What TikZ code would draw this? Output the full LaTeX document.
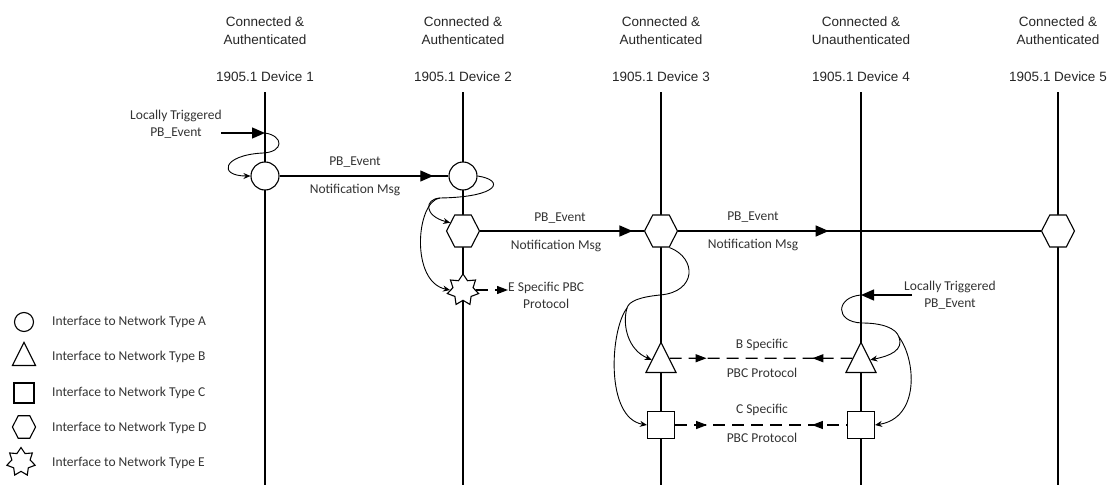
\documentclass[tikz,border=0pt]{standalone}
\usepackage{fontspec}
\newfontfamily\hdfont{Liberation Sans}
\newfontfamily\lbfont{Carlito}
\usetikzlibrary{shapes.geometric,arrows.meta,decorations.markings}

\begin{document}
\begin{tikzpicture}[x=1pt,y=-1pt,
  lifeln/.style={line width=1.3pt},
  hdtext/.style={font=\hdfont\fontsize{13.5}{18}\selectfont, align=center, inner sep=0pt, text=black!85},
  lbtext/.style={font=\lbfont\fontsize{13.5}{17}\selectfont, align=center, inner sep=0pt, text=black!80},
  ifbase/.style={draw, fill=white, line width=1.1pt, inner sep=0pt},
  ifA/.style={ifbase, circle, minimum size=#1},
  ifB/.style={ifbase, isosceles triangle, isosceles triangle stretches, shape border rotate=90,
    minimum width=#1, minimum height=#1, anchor=lower side},
  ifC/.style={ifbase, rectangle, minimum size=#1},
  ifD/.style={ifbase, regular polygon, regular polygon sides=6, minimum size=#1, xscale=0.89},
  ifE/.style={ifbase, star, star points=7, star point ratio=1.55, minimum size=#1},
  msgline/.style={line width=1.3pt, postaction=decorate,
    decoration={markings, mark=at position #1 with {\arrow{Triangle[length=13pt,width=11pt]}}}},
  protline/.style 2 args={line width=1.3pt, dash pattern=on 12pt off 7pt, postaction=decorate,
    decoration={markings,
      mark=at position #1 with {\arrow{Triangle[length=11pt,width=8pt]}},
      mark=at position #2 with {\arrowreversed{Triangle[length=11pt,width=8pt]}}}},
  protone/.style={line width=1.3pt, dash pattern=on 12pt off 7pt, -{Triangle[length=11pt,width=8pt]}},
  trig/.style={line width=1.3pt, -{Triangle[length=13pt,width=11pt]}},
  curvtip/.style={line width=0.9pt, -{Stealth[length=7pt,width=6pt]}}
]
\useasboundingbox (0,0) rectangle (1112,485);

% device headers and lifelines
\foreach \i/\x/\s in {1/265/Authenticated, 2/463/Authenticated, 3/661/Authenticated,
                      4/861/Unauthenticated, 5/1058/Authenticated} {
  \node[hdtext] (st\i) at (\x,31) {Connected \&\\\s};
  \node[hdtext] (dv\i) at (\x,77) {1905.1 Device \i};
  \coordinate (top\i) at (\x,92);
  \coordinate (bot\i) at (\x,485);
  \draw[lifeln] (top\i) -- (bot\i);
}

% interfaces on the lifelines (triangles are placed by the middle of their base)
\node[ifA=28pt] (a1) at (265,176) {};
\node[ifA=28pt] (a2) at (463,176) {};
\node[ifD=37pt] (d2) at (463,231) {};
\node[ifE=32pt] (e2) at (463,290) {};
\node[ifD=37pt] (d3) at (661,231) {};
\node[ifD=37pt] (d5) at (1058,231) {};
\node[ifB=30pt] (b3) at (661,373) {};
\node[ifC=27pt] (c3) at (661,425) {};
\node[ifB=30pt] (b4) at (861,373) {};
\node[ifC=27pt] (c4) at (861,425) {};

% message labels
\node[lbtext] (m1a) at (355,162) {PB\_Event};
\node[lbtext] (m1b) at (355,190) {Notification Msg};
\node[lbtext] (m2a) at (560,218) {PB\_Event};
\node[lbtext] (m2b) at (556,246) {Notification Msg};
\node[lbtext] (m3a) at (753,217) {PB\_Event};
\node[lbtext] (m3b) at (753,245) {Notification Msg};
\node[lbtext, anchor=west] (eprot) at (508,295) {E Specific PBC\\Protocol};
\node[lbtext] (bsa) at (762,345) {B Specific};
\node[lbtext] (bsb) at (762,373) {PBC Protocol};
\node[lbtext] (csa) at (762,410) {C Specific};
\node[lbtext] (csb) at (762,438) {PBC Protocol};
\node[lbtext] (trg1) at (176,124) {Locally Triggered\\PB\_Event};
\node[lbtext] (trg4) at (950,295) {Locally Triggered\\PB\_Event};

% messages
\draw[msgline=0.91] (a1.east) -- (a2.west);
\draw[msgline=0.93] (d2.east) -- (d3.west);
\draw[msgline=0.415] (d3.east) -- (d5.west);
\draw[protone] (e2.east) -- (e2.east -| eprot.west);
\draw[protline={37pt}{-40pt}] (b3.30) -- (b4.150);
\draw[protline={32pt}{-35pt}] (c3.east) -- (c4.west);

% local triggers
\coordinate (src1) at (221,133);
\coordinate (in1) at (265,133);
\draw[trig] (src1) -- (in1);
\coordinate (src4) at (912,295);
\coordinate (in4) at (861,295);
\draw[trig] (src4) -- (in4);

% internal hand-overs between interfaces
\draw[curvtip] (in1) .. controls (284,136) and (284,152) .. (263,153)
  .. controls (222,155) and (218,176) .. (a1.west);

\coordinate (sp2) at (440,198);
\draw[curvtip] (a2.east) .. controls (505,180) and (500,197) .. (sp2)
  .. controls (424,199) and (424,216) .. (d2.150);
\draw[curvtip] (sp2) .. controls (416,201) and (410,282) .. (e2.west);

\coordinate (sp3) at (627,308);
\draw[curvtip] (d3.-60) .. controls (697,258) and (697,292) .. (660,295)
  .. controls (640,297) and (629,301) .. (sp3)
  .. controls (622,325) and (628,350) .. (b3.160);
\draw[curvtip] (sp3) .. controls (610,330) and (605,418) .. (c3.west);

\coordinate (sp4) at (899,337);
\draw[curvtip] (in4) .. controls (836,297) and (834,322) .. (862,323)
  .. controls (882,323) and (896,328) .. (sp4)
  .. controls (904,350) and (890,356) .. (b4.20);
\draw[curvtip] (sp4) .. controls (916,360) and (920,418) .. (c4.east);

% legend
\node[ifA=19pt] (la) at (24,322) {};
\node[ifB=23pt] (lb) at (24,366) {};
\node[ifC=20pt] (lc) at (24,393) {};
\node[ifD=26pt] (ld) at (24,427) {};
\node[ifE=29pt] (le) at (21,462) {};
\node[lbtext, anchor=west] (ta) at (52,322) {Interface to Network Type A};
\node[lbtext, anchor=west] (tb) at (52,357) {Interface to Network Type B};
\node[lbtext, anchor=west] (tc) at (52,393) {Interface to Network Type C};
\node[lbtext, anchor=west] (td) at (52,428) {Interface to Network Type D};
\node[lbtext, anchor=west] (te) at (52,463) {Interface to Network Type E};
\end{tikzpicture}
\end{document}
